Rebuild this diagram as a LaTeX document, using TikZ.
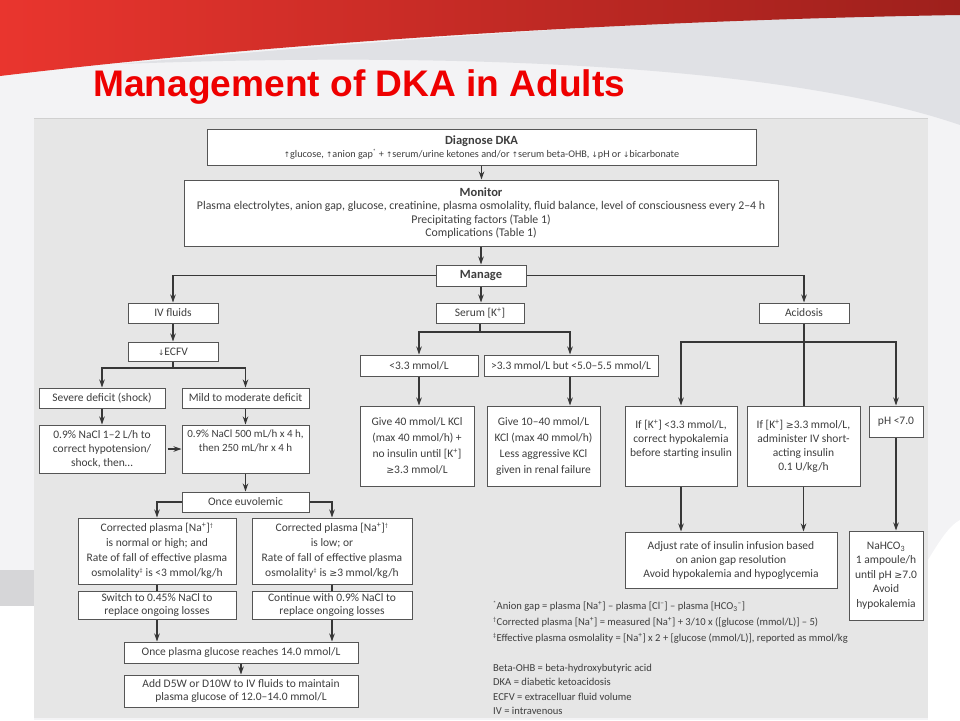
\documentclass[tikz,border=0pt]{standalone}
\usepackage{fontspec}
\usepackage{graphicx}
\setmainfont{Carlito}
\newfontfamily\titlefont{Liberation Sans}
\newfontfamily\symfont{DejaVu Sans}
\usetikzlibrary{arrows.meta}
\definecolor{slidebg}{RGB}{243,243,245}
\definecolor{swooshgray}{RGB}{224,225,229}
\definecolor{redL}{RGB}{233,53,46}
\definecolor{redR}{RGB}{158,32,28}
\definecolor{titlered}{RGB}{238,0,0}
\definecolor{panelgray}{RGB}{230,230,230}
\definecolor{panelline}{RGB}{208,208,208}
\definecolor{boxline}{RGB}{85,85,85}
\definecolor{arrline}{RGB}{55,55,55}
\definecolor{txtgray}{RGB}{62,62,62}
\definecolor{sideblock}{RGB}{214,214,216}
\newcommand{\myup}{{\symfont\fontsize{7.5}{7.5}\selectfont ↑}}
\newcommand{\mydown}{{\symfont\fontsize{7.5}{7.5}\selectfont ↓}}
\newcommand{\myge}{{\symfont\fontsize{9.5}{9.5}\selectfont ≥}}
\newcommand{\kplus}{[K\textsuperscript{+}]}
\newcommand{\naplus}{[Na\textsuperscript{+}]}
\newcommand{\smallmark}[1]{\textsuperscript{\fontsize{6}{6}\selectfont #1}}
\tikzset{
  box/.style={draw=boxline, fill=white, line width=1pt, inner sep=0pt, align=center,
    text=txtgray, font=\fontsize{11.5}{15}\selectfont},
  boxtext/.style={inner sep=0pt, align=center, text=txtgray, font=\fontsize{11.5}{14}\selectfont},
  conn/.style={draw=arrline, line width=1.1pt},
  arr/.style={conn, -{Stealth[length=8pt,width=5.5pt]}},
  foot/.style={inner sep=0pt, align=left, text=txtgray, font=\fontsize{10.6}{16}\selectfont, anchor=north west}
}
\begin{document}
\begin{tikzpicture}[x=1pt,y=-1pt]
\useasboundingbox (0,0) rectangle (960,720);
% slide background
\fill[slidebg] (0,0) rectangle (960,720);
\fill[swooshgray] (960,10) .. controls (700,18) and (400,38) .. (120,64)
   .. controls (500,50) and (800,70) .. (960,125) -- cycle;
\shade[left color=redL, right color=redR] (0,0) -- (960,0) -- (960,15)
   .. controls (650,20) and (300,40) .. (0,76) -- cycle;
\fill[white] (0,606) rectangle (34,720);
\fill[sideblock] (0,570) rectangle (34,606);
\fill[white] (928,560) .. controls (940,540) and (950,525) .. (960,520) -- (960,720) -- (928,720) -- cycle;
% title
\node[anchor=base west, inner sep=0pt, text=titlered] (title) at (93,96)
  {\resizebox{532pt}{\height}{\titlefont\bfseries\fontsize{37}{40}\selectfont Management of DKA in Adults}};
% panel
\fill[panelgray] (34,118) rectangle (928,718);
\draw[panelline, line width=0.8pt] (34,118) -- (928,118);

% top boxes
\node[box, minimum width=549pt, minimum height=36pt, font=\fontsize{10.2}{13}\selectfont] (diag) at (481.5,147)
 {{\fontsize{12.5}{13}\selectfont\bfseries Diagnose DKA}\\
  \myup glucose, \myup anion gap\smallmark{*} + \myup serum/urine ketones and/or \myup serum beta-OHB, \mydown pH or \mydown bicarbonate};
\node[box, minimum width=594pt, minimum height=66pt, font=\fontsize{11.8}{13.3}\selectfont] (mon) at (481,213)
 {{\fontsize{12.5}{13.3}\selectfont\bfseries Monitor}\\
  Plasma electrolytes, anion gap, glucose, creatinine, plasma osmolality, fluid balance, level of consciousness every 2–4 h\\
  Precipitating factors (Table 1)\\
  Complications (Table 1)};
\node[box, minimum width=90pt, minimum height=21pt, font=\fontsize{12.5}{13}\selectfont\bfseries] (manage) at (481,275.5) {Manage};

% left branch
\node[box, minimum width=90pt, minimum height=20pt] (ivf) at (173,313) {IV fluids};
\node[box, minimum width=90pt, minimum height=19pt] (ecfv) at (173,351.5) {\mydown ECFV};
\node[box, minimum width=126pt, minimum height=20pt] (severe) at (102,398) {Severe deficit (shock)};
\node[box, minimum width=127pt, minimum height=20pt] (mild) at (245.5,398) {Mild to moderate deficit};
\node[box, minimum width=126pt, minimum height=48pt, font=\fontsize{11.5}{14}\selectfont] (nacl1) at (102,449)
 {0.9\% NaCl 1–2 L/h to\\ correct hypotension/\\ shock, then\ldots};
\node[box, minimum width=127pt, minimum height=48pt] (nacl2) at (245.5,449) {};
\node[boxtext, anchor=north, font=\fontsize{11}{14}\selectfont] (nacl2t) at ([yshift=-5pt]nacl2.north)
 {0.9\% NaCl 500 mL/h x 4 h,\\ then 250 mL/hr x 4 h};
\node[box, minimum width=127pt, minimum height=20pt] (euvo) at (245.5,502) {Once euvolemic};
\node[box, minimum width=158pt, minimum height=66pt] (corrhigh) at (157,551)
 {Corrected plasma \naplus\smallmark{†}\\ is normal or high; and\\ Rate of fall of effective plasma\\ osmolality\smallmark{‡} is <3 mmol/kg/h};
\node[box, minimum width=160pt, minimum height=66pt] (corrlow) at (332,551)
 {Corrected plasma \naplus\smallmark{†}\\ is low; or\\ Rate of fall of effective plasma\\ osmolality\smallmark{‡} is \myge3 mmol/kg/h};
\node[box, minimum width=158pt, minimum height=28pt, font=\fontsize{11.5}{13}\selectfont] (switch) at (157,605)
 {Switch to 0.45\% NaCl to\\ replace ongoing losses};
\node[box, minimum width=160pt, minimum height=28pt, font=\fontsize{11.5}{13}\selectfont] (cont) at (332,605)
 {Continue with 0.9\% NaCl to\\ replace ongoing losses};
\node[box, minimum width=234pt, minimum height=21pt] (glu) at (241,652.5) {Once plasma glucose reaches 14.0 mmol/L};
\node[box, minimum width=234pt, minimum height=32pt, font=\fontsize{11.5}{13.5}\selectfont] (d5w) at (241,691)
 {Add D5W or D10W to IV fluids to maintain\\ plasma glucose of 12.0–14.0 mmol/L};

% middle branch
\node[box, minimum width=88pt, minimum height=20pt] (serumk) at (480,313) {Serum \kplus};
\node[box, minimum width=118pt, minimum height=21pt] (lowk) at (419,365.5) {<3.3 mmol/L};
\node[box, minimum width=174pt, minimum height=21pt] (midk) at (571,365.5) {>3.3 mmol/L but <5.0–5.5 mmol/L};
\node[box, minimum width=114pt, minimum height=80pt, font=\fontsize{11.5}{16}\selectfont] (give40) at (417,446)
 {Give 40 mmol/L KCl\\ (max 40 mmol/h) +\\ no insulin until \kplus\\ \myge3.3 mmol/L};
\node[box, minimum width=113pt, minimum height=80pt, font=\fontsize{11.5}{16}\selectfont] (give10) at (543.5,446)
 {Give 10–40 mmol/L\\ KCl (max 40 mmol/h)\\ Less aggressive KCl\\ given in renal failure};

% right branch
\node[box, minimum width=90pt, minimum height=20pt] (acid) at (804,313) {Acidosis};
\node[box, minimum width=112pt, minimum height=80pt] (iflow) at (681,446) {};
\node[boxtext, anchor=north] (iflowt) at ([yshift=-14pt]iflow.north)
 {If \kplus\ <3.3 mmol/L,\\ correct hypokalemia\\ before starting insulin};
\node[box, minimum width=113pt, minimum height=80pt] (ifhigh) at (803.5,446) {};
\node[boxtext, anchor=north] (ifhight) at ([yshift=-14pt]ifhigh.north)
 {If \kplus\ \myge3.3 mmol/L,\\ administer IV short-\\ acting insulin\\ 0.1 U/kg/h};
\node[box, minimum width=54pt, minimum height=31pt] (ph) at (896,421.5) {pH <7.0};
\node[box, minimum width=212pt, minimum height=56pt, font=\fontsize{11.5}{14}\selectfont] (adjust) at (731,560)
 {Adjust rate of insulin infusion based\\ on anion gap resolution\\ Avoid hypokalemia and hypoglycemia};
\node[box, minimum width=74pt, minimum height=89pt, font=\fontsize{11.5}{14.5}\selectfont] (nahco) at (886,575.5)
 {NaHCO\textsubscript{3}\\ 1 ampoule/h\\ until pH \myge7.0\\ Avoid\\ hypokalemia};

% footnotes
\node[foot] (fn1) at (493,601)
 {\smallmark{*}Anion gap = plasma \naplus\ – plasma [Cl\textsuperscript{–}] – plasma [HCO\textsubscript{3}\textsuperscript{–}]\\
  \smallmark{†}Corrected plasma \naplus\ = measured \naplus\ + 3/10 x ([glucose (mmol/L)] – 5)\\
  \smallmark{‡}Effective plasma osmolality = \naplus\ x 2 + [glucose (mmol/L)], reported as mmol/kg};
\node[foot, font=\fontsize{10.6}{14.3}\selectfont] (fn2) at (493,664)
 {Beta-OHB = beta-hydroxybutyric acid\\
  DKA = diabetic ketoacidosis\\
  ECFV = extracelluar fluid volume\\
  IV = intravenous};

% connectors
\draw[arr] (diag.south) -- (diag.south |- mon.north);
\draw[arr] (mon.south) -- (mon.south |- manage.north);
\draw[arr] (manage.west) -| (ivf.north);
\draw[arr] (manage.east) -| (acid.north);
\draw[arr] (manage.south) -- (manage.south |- serumk.north);

\draw[arr] (ivf.south) -- (ecfv.north);
\coordinate (ecfvj) at (173,368);
\draw[conn] (ecfv.south) -- (ecfvj);
\draw[arr] (ecfvj) -| (severe.north);
\draw[arr] (ecfvj) -| (mild.north);
\draw[arr] (severe.south) -- (nacl1.north);
\draw[arr] (mild.south) -- (nacl2.north);
\draw[arr] ([xshift=2pt]nacl1.east) -- (nacl2.west);
\draw[arr] (nacl2.south) -- (euvo.north);
\draw[arr] (euvo.west) -| (corrhigh.north);
\draw[arr] (euvo.east) -| (corrlow.north);
\draw[conn] (corrhigh.south) -- (switch.north);
\draw[conn] (corrlow.south) -- (cont.north);
\draw[arr] (switch.south) -- (switch.south |- glu.north);
\draw[arr] (cont.south) -- (cont.south |- glu.north);
\draw[arr] (glu.south) -- (d5w.north);

\coordinate (serumj) at (480,332);
\draw[conn] (serumk.south) -- (serumj);
\draw[arr] (serumj) -| (lowk.north);
\draw[arr] (serumj) -| ([xshift=-1pt]midk.north);
\draw[arr] (lowk.south) -- (lowk.south |- give40.north);
\draw[arr] ([xshift=-1pt]midk.south) -- ([xshift=-1pt]midk.south |- give10.north);

\coordinate (acidj) at (804,342);
\draw[conn] (acid.south) -- (acid.south |- ifhigh.north);
\draw[arr] (acidj) -| (iflow.north);
\draw[arr] (acidj) -| (ph.north);
\draw[arr] (iflow.south) -- (iflow.south |- adjust.north);
\draw[arr] (ifhigh.south) -- (ifhigh.south |- adjust.north);
\draw[arr] (ph.south) -- (ph.south |- nahco.north);
\end{tikzpicture}
\end{document}
